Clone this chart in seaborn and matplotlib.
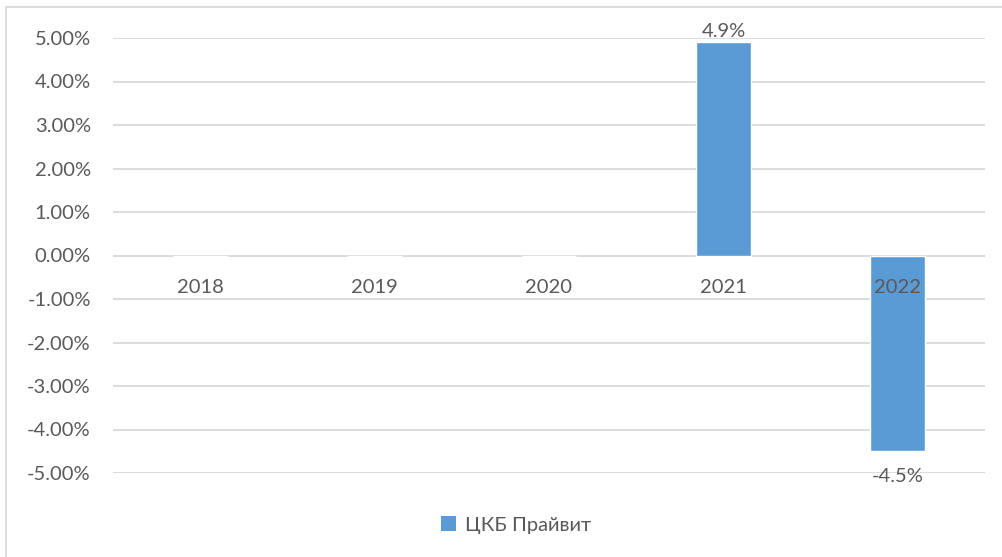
import matplotlib
matplotlib.use('Agg')
import matplotlib.pyplot as plt
import seaborn as sns
from matplotlib.patches import Rectangle, Patch

years = ['2018', '2019', '2020', '2021', '2022']
values = [0.0, 0.0, 0.0, 4.9, -4.5]
labels = ['', '', '', '4.9%', '-4.5%']
series_name = 'ЦКБ Прайвит'
yticks = [5, 4, 3, 2, 1, 0, -1, -2, -3, -4, -5]

bar_color = '#5B9BD5'
text_color = '#595959'
grid_color = '#D9D9D9'

sns.set_style('white')
plt.rcParams['font.family'] = ['Lato', 'DejaVu Sans']

fig = plt.figure(figsize=(10.03, 5.57), dpi=100)
ax = fig.add_axes([113 / 1003, 84 / 557, 872 / 1003, 435 / 557])

sns.barplot(x=years, y=values, color=bar_color, width=0.315, ax=ax, saturation=1)
ax.set_axisbelow(False)  # year labels go over the bars, like in excel

ax.set_ylim(-5, 5)
ax.set_yticks(yticks)
ax.set_yticklabels(['%.2f%%' % v for v in yticks])
for v in yticks:
    ax.axhline(v, color=grid_color, lw=1.3, zorder=0)

for sp in ax.spines.values():
    sp.set_visible(False)
ax.spines['bottom'].set_position(('data', 0))
ax.tick_params(axis='y', length=0, pad=16, labelsize=14.5, labelcolor=text_color)
ax.tick_params(axis='x', length=0, pad=17, labelsize=14.5, labelcolor=text_color)
ax.set_xlabel('')
ax.set_ylabel('')

# data labels
for i, (v, lab) in enumerate(zip(values, labels)):
    if not lab:
        continue
    if v >= 0:
        ax.annotate(lab, (i, v), xytext=(0, 2), textcoords='offset points',
                    ha='center', va='bottom', fontsize=14.5, color=text_color)
    else:
        ax.annotate(lab, (i, v), xytext=(0, -12), textcoords='offset points',
                    ha='center', va='top', fontsize=14.5, color=text_color)

# legend
handle = Patch(facecolor=bar_color, edgecolor='none')
fig.legend([handle], [series_name], loc='center', bbox_to_anchor=(516 / 1003, 1 - 525 / 557),
           frameon=False, fontsize=14.5, labelcolor=text_color,
           handlelength=0.75, handleheight=0.75, handletextpad=0.4)

# chart frame
fig.patches.append(Rectangle((6 / 1003, -0.05), 1.1, 1.05 - 7 / 557, transform=fig.transFigure,
                             fill=False, edgecolor=grid_color, lw=1.3, zorder=-1))

fig.savefig('out.png', dpi=100)
